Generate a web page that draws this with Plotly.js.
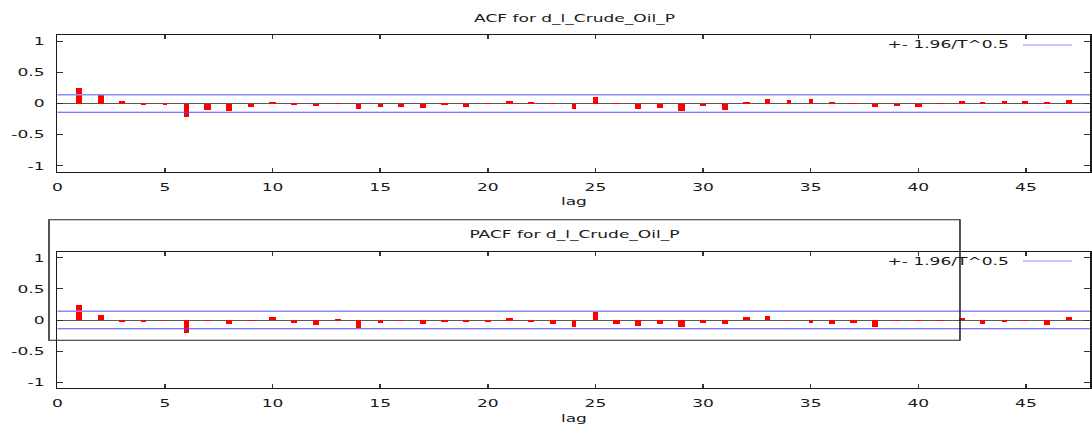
<!DOCTYPE html>
<html>
<head>
<meta charset="utf-8">
<script src="https://cdn.plot.ly/plotly-3.0.1.min.js"></script>
<style>
  html, body { margin: 0; padding: 0; background: #ffffff; overflow: hidden; }
  #chart { width: 705px; height: 425px; transform: scaleX(1.5489); transform-origin: 0 0; }
</style>
</head>
<body>
<div id="chart"></div>
<script>
// ---- data ----
const lags = [1,2,3,4,5,6,7,8,9,10,11,12,13,14,15,16,17,18,19,20,21,22,23,24,25,26,27,28,29,30,31,32,33,34,35,36,37,38,39,40,41,42,43,44,45,46,47];
const acfValues = [0.246,0.134,0.037,-0.015,-0.02,-0.214,-0.107,-0.123,-0.059,0.02,-0.03,-0.04,-0.005,-0.085,-0.064,-0.059,-0.075,-0.03,-0.053,0.005,0.043,0.01,0.003,-0.096,0.10,-0.003,-0.085,-0.08,-0.123,-0.04,-0.107,0.032,0.08,0.064,0.07,0.02,0.005,-0.059,-0.048,-0.053,-0.005,0.048,0.027,0.037,0.048,0.015,0.059];
const pacfValues = [0.253,0.081,-0.016,-0.032,-0.01,-0.21,-0.005,-0.065,0.002,0.054,-0.038,-0.081,0.02,-0.124,-0.043,0.003,-0.065,-0.016,-0.032,-0.02,0.032,-0.032,-0.059,-0.10,0.14,-0.065,-0.097,-0.059,-0.113,-0.048,-0.059,0.048,0.065,0.002,-0.048,-0.054,-0.043,-0.10,0.002,0.003,0.003,0.043,-0.065,-0.016,0.003,-0.081,0.059];
const band = 0.142;            // 1.96/T^0.5
const lagRange = [0, 48];
const xTickVals = [0,5,10,15,20,25,30,35,40,45];
const yTickVals = [-1,-0.5,0,0.5,1];
const yTickText = ["-1","-0.5","0","0.5","1"];
const acfTitle = "ACF for d_l_Crude_Oil_P";
const pacfTitle = "PACF for d_l_Crude_Oil_P";
const bandLabel = "+- 1.96/T^0.5";
const xTitle = "lag";

// ---- styling ----
const FONT = {family: "DejaVu Sans", size: 11, color: "#1a1a1a"};
const BAR_RED = "#ff0000";
const BAND_UP = "#8c8cff";
const BAND_DN = "#4d4dff";

function barTrace(vals, xa, ya) {
  return {type: "bar", x: lags, y: vals, width: 0.27, xaxis: xa, yaxis: ya,
          marker: {color: BAR_RED, line: {width: 0}}, showlegend: false, hoverinfo: "x+y"};
}
function bandTrace(level, color, w, xa, ya) {
  return {type: "scatter", mode: "lines", x: lagRange, y: lagRange.map(() => level),
          xaxis: xa, yaxis: ya, line: {color: color, width: w}, showlegend: false, hoverinfo: "skip"};
}

const data = [
  barTrace(acfValues, "x", "y"),
  bandTrace(band, BAND_UP, 1.5, "x", "y"),
  bandTrace(-band, BAND_DN, 1, "x", "y"),
  barTrace(pacfValues, "x2", "y2"),
  bandTrace(band, BAND_UP, 1.5, "x2", "y2"),
  bandTrace(-band, BAND_DN, 1, "x2", "y2")
];

const xDomain = [57.3/1092, 1090.5/1092];
function xAxis(anchor) {
  return {domain: xDomain, anchor: anchor, range: lagRange, tickvals: xTickVals,
          ticks: "inside", ticklen: 4, tickwidth: 1, tickcolor: "#333",
          showline: true, linecolor: "#1a1a1a", linewidth: 1, mirror: "ticks",
          showgrid: false, zeroline: false, ticklabelstandoff: 5,
          tickfont: FONT, title: {text: xTitle, font: FONT, standoff: 4}};
}
function yAxis(anchor, dom) {
  return {domain: dom, anchor: anchor, range: [-1.1, 1.1], tickvals: yTickVals, ticktext: yTickText,
          ticks: "inside", ticklen: 4, tickwidth: 1, tickcolor: "#333",
          showline: true, linecolor: "#1a1a1a", linewidth: 1, mirror: "ticks",
          showgrid: false, zeroline: true, zerolinecolor: "#5a5a5a", zerolinewidth: 1,
          ticklabelstandoff: 5, tickfont: FONT};
}

const layout = {
  width: 705, height: 425,
  margin: {l: 0, r: 0, t: 0, b: 0, pad: 0},
  paper_bgcolor: "#ffffff", plot_bgcolor: "#ffffff",
  font: FONT, showlegend: false, bargap: 0,
  xaxis: xAxis("y"),
  yaxis: yAxis("x", [1-172/425, 1-35/425]),
  xaxis2: xAxis("y2"),
  yaxis2: yAxis("x2", [1-388.3/425, 1-251.7/425]),
  annotations: [
    {text: acfTitle, xref: "paper", yref: "paper", x: 573.9/1092, y: 1-18.5/425, xanchor: "center", yanchor: "middle", showarrow: false, font: FONT},
    {text: pacfTitle, xref: "paper", yref: "paper", x: 573.9/1092, y: 1-234.5/425, xanchor: "center", yanchor: "middle", showarrow: false, font: FONT},
    {text: bandLabel, xref: "paper", yref: "paper", x: 1012/1092, y: 1-45/425, xanchor: "right", yanchor: "middle", showarrow: false, font: FONT},
    {text: bandLabel, xref: "paper", yref: "paper", x: 1012/1092, y: 1-261/425, xanchor: "right", yanchor: "middle", showarrow: false, font: FONT}
  ],
  shapes: [
    {type: "line", xref: "paper", yref: "paper", x0: 1023/1092, x1: 1072/1092, y0: 1-45/425, y1: 1-45/425, line: {color: BAND_UP, width: 1.2}},
    {type: "line", xref: "paper", yref: "paper", x0: 1023/1092, x1: 1072/1092, y0: 1-261/425, y1: 1-261/425, line: {color: BAND_UP, width: 1.2}},
    {type: "rect", xref: "paper", yref: "paper", layer: "above", x0: 49/1092, x1: 960/1092, y0: 1-340.3/425, y1: 1-219.7/425, line: {color: "#222", width: 1}, fillcolor: "rgba(0,0,0,0)"}
  ]
};

Plotly.newPlot("chart", data, layout, {displayModeBar: false, responsive: false});
</script>
</body>
</html>
